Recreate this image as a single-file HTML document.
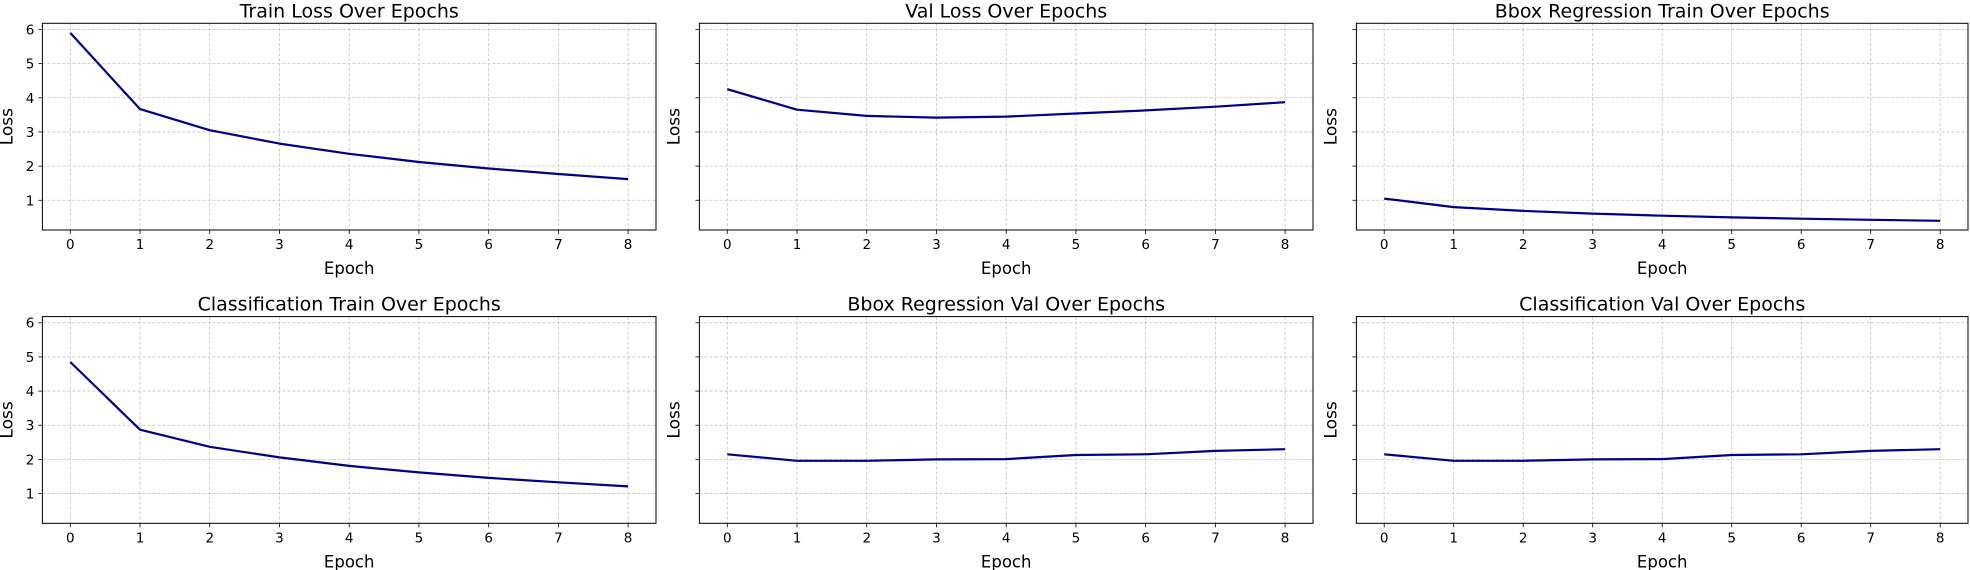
<!DOCTYPE html>
<html><head><meta charset="utf-8"><style>
html,body{margin:0;padding:0;background:#fff;}
svg{display:block;font-family:"DejaVu Sans","Liberation Sans",sans-serif;}
</style></head><body>
<svg id="fig" width="1970" height="570" viewBox="0 0 1970 570" xmlns="http://www.w3.org/2000/svg"></svg>
<script>
const epochs = [0,1,2,3,4,5,6,7,8];
const yTicks = [1,2,3,4,5,6];
const titles = ["Train Loss Over Epochs","Val Loss Over Epochs","Bbox Regression Train Over Epochs","Classification Train Over Epochs","Bbox Regression Val Over Epochs","Classification Val Over Epochs"];
const trainLoss = [5.9,3.67,3.05,2.66,2.36,2.12,1.93,1.77,1.62];
const valLoss = [4.25,3.65,3.47,3.42,3.45,3.54,3.63,3.74,3.87];
const bboxTrain = [1.05,0.8,0.69,0.61,0.55,0.5,0.46,0.43,0.4];
const clsTrain = [4.85,2.87,2.37,2.06,1.81,1.62,1.46,1.33,1.21];
const bboxVal = [2.15,1.96,1.96,2.0,2.01,2.13,2.15,2.25,2.3];
const clsVal = [2.15,1.96,1.96,2.0,2.01,2.13,2.15,2.25,2.3];
const series = [trainLoss,valLoss,bboxTrain,clsTrain,bboxVal,clsVal];
const names = ["train-loss","val-loss","bbox-train","cls-train","bbox-val","cls-val"];

const NS="http://www.w3.org/2000/svg";
const svg=document.getElementById('fig');
function mk(tag,attrs,parent){const e=document.createElementNS(NS,tag);for(const k in attrs)e.setAttribute(k,attrs[k]);(parent||svg).appendChild(e);return e;}
const lefts=[42.4,699.4,1356.4], widths=[613.6,613.6,611.6];
const tops=[23.3,316.6], H=206.7;
const yMin=0.13, yMax=6.18, xMin=-0.4, xMax=8.4;

for(let i=0;i<6;i++){
  const c=i%3, r=Math.floor(i/3);
  const L=lefts[c], W=widths[c], T=tops[r];
  const g=mk('g',{});
  
  
  const xs=v=>L+(v-xMin)/(xMax-xMin)*W;
  const ys=v=>T+H-(v-yMin)/(yMax-yMin)*H;
  epochs.forEach(e=>{const l=mk('line',{x1:xs(e),x2:xs(e),y1:T,y2:T+H,stroke:'#c0c0c0','stroke-width':0.8,'stroke-dasharray':'3,2'},g);
    
    
    const tk=mk('line',{x1:xs(e),x2:xs(e),y1:T+H,y2:T+H+4,stroke:'#000','stroke-width':0.8},g);
    
    
    const t=mk('text',{x:xs(e),y:T+H+19,'font-size':13.5,'text-anchor':'middle',fill:'#000'},g);t.textContent=e;
    
    
  });
  yTicks.forEach(v=>{const l=mk('line',{x1:L,x2:L+W,y1:ys(v),y2:ys(v),stroke:'#c0c0c0','stroke-width':0.8,'stroke-dasharray':'3,2'},g);
    
    
    const tk=mk('line',{x1:L-4,x2:L,y1:ys(v),y2:ys(v),stroke:'#000','stroke-width':0.8},g);
    
    
    if(c===0){const t=mk('text',{x:L-8,y:ys(v)+5,'font-size':13.5,'text-anchor':'end',fill:'#000'},g);t.textContent=v;
      
      }
  });
  const d=series[i].map((v,k)=>(k?'L':'M')+xs(epochs[k]).toFixed(1)+','+ys(v).toFixed(1)).join(' ');
  const p=mk('path',{d:d,fill:'none',stroke:'#00008b','stroke-width':2.2,'stroke-linejoin':'round'},g);
  
  
  const fr=mk('rect',{x:L,y:T,width:W,height:H,fill:'none',stroke:'#000','stroke-width':1},g);
  
  
  const tt=mk('text',{x:L+W/2,y:T-6,'font-size':19,'text-anchor':'middle',fill:'#000'},g);tt.textContent=titles[i];
  
  
  const xl=mk('text',{x:L+W/2,y:T+H+44,'font-size':16.5,'text-anchor':'middle',fill:'#000'},g);xl.textContent='Epoch';
  
  
  const lx=L-(c===0?30:20), ly=T+H/2;
  const yl=mk('text',{x:lx,y:ly,'font-size':17,'text-anchor':'middle',fill:'#000',transform:'rotate(-90 '+lx+' '+ly+')'},g);yl.textContent='Loss';
  
  
}
</script>
</body></html>
